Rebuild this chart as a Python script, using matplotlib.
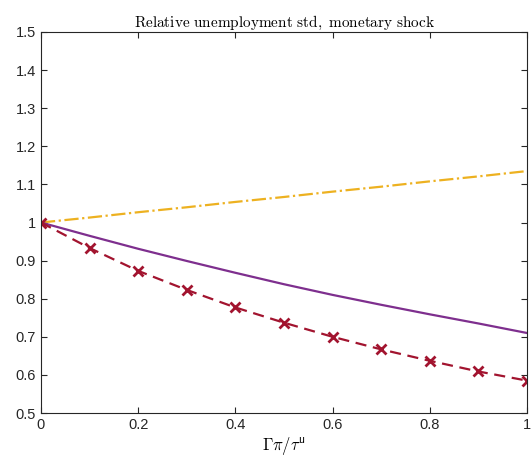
import matplotlib
matplotlib.use('Agg')
from matplotlib import pyplot as plt

# data
x_vals = [0.0, 0.1, 0.2, 0.3, 0.4, 0.5, 0.6, 0.7, 0.8, 0.9, 1.0]
flexible = [1.0, 1.013, 1.027, 1.040, 1.054, 1.067, 1.081, 1.094, 1.108, 1.121, 1.135]
baseline = [1.0, 0.965, 0.931, 0.899, 0.868, 0.838, 0.810, 0.784, 0.759, 0.735, 0.710]
marked = [1.0, 0.933, 0.873, 0.823, 0.777, 0.737, 0.700, 0.667, 0.637, 0.609, 0.585]

x_ticks = [0, 0.2, 0.4, 0.6, 0.8, 1]
x_tick_labels = ['0', '0.2', '0.4', '0.6', '0.8', '1']
y_ticks = [0.5, 0.6, 0.7, 0.8, 0.9, 1.0, 1.1, 1.2, 1.3, 1.4, 1.5]
y_tick_labels = ['0.5', '0.6', '0.7', '0.8', '0.9', '1', '1.1', '1.2', '1.3', '1.4', '1.5']

plt.rcParams['mathtext.fontset'] = 'cm'
plt.rcParams['font.family'] = ['Liberation Sans', 'DejaVu Sans']

fig = plt.figure(figsize=(5.31, 4.65), dpi=100)
ax = fig.add_axes([0.0772, 0.1118, 0.9153, 0.8194])

ax.plot(x_vals, flexible, color='#EDB120', linestyle='-.', linewidth=1.6)
ax.plot(x_vals, baseline, color='#7E2F8E', linestyle='-', linewidth=1.6)
ax.plot(x_vals, marked, color='#A2142F', linestyle=(0, (5, 3)), linewidth=1.6,
        marker='x', markersize=6.5, markeredgewidth=2)

ax.set_xlim(0, 1)
ax.set_ylim(0.5, 1.5)
ax.set_xticks(x_ticks)
ax.set_xticklabels(x_tick_labels)
ax.set_yticks(y_ticks)
ax.set_yticklabels(y_tick_labels)
ax.tick_params(direction='in', length=4, width=0.8, colors='#262626',
               labelsize=10.5, top=True, right=True)
for side in ax.spines.values():
    side.set_color('#262626')
    side.set_linewidth(0.8)

ax.set_title(r'$\mathrm{Relative\ unemployment\ std,\ monetary\ shock}$',
             fontsize=11, pad=4)
ax.set_xlabel(r'$\Gamma\pi/\tau^{\mathsf{u}}$', fontsize=12, labelpad=2)

fig.savefig('out.png', dpi=100)
